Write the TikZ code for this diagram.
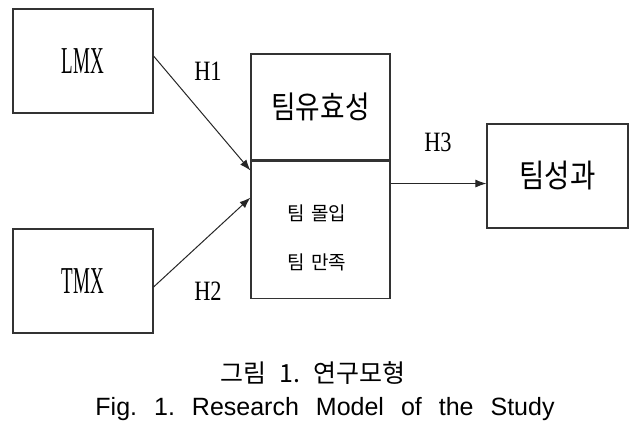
\documentclass[tikz,border=0pt]{standalone}
\usepackage{fontspec}
\setmainfont{Liberation Serif}
\newfontfamily\krfont{Noto Sans CJK KR}
\newfontfamily\krcond[FakeStretch=0.86]{Noto Sans CJK KR}
\newfontfamily\condfont[FakeStretch=0.5]{Liberation Serif}
\newfontfamily\hypfont[FakeStretch=0.8]{Liberation Serif}
\newfontfamily\capfont{Liberation Sans}
\usepackage{tikz}
\usetikzlibrary{arrows.meta,positioning}

\begin{document}
\begin{tikzpicture}[
    x=1pt, y=-1pt,
    box/.style={draw=black!80, line width=1.1pt, inner sep=0pt, align=center},
    var/.style={box, minimum width=140pt, minimum height=104pt, font=\condfont\fontsize{38}{40}\selectfont},
    hyp/.style={font=\hypfont\fontsize{28}{30}\selectfont},
    item/.style={font=\krfont\fontsize{19}{21}\selectfont},
    line/.style={-{Latex[length=11pt,width=8pt]}, line width=1pt, black!85}
]
\useasboundingbox (0,0) rectangle (638,432);

% variables
\node[var] (lmx) at (83,61) {LMX};
\node[var] (tmx) at (83,281) {TMX};
\node[box, minimum width=139pt, minimum height=106pt, font=\krcond\fontsize{31}{33}\selectfont] (eff) at (320.5,107) {팀유효성};
\node[box, minimum width=139pt, minimum height=137pt, anchor=north] (att) at (eff.south) {};
\node[item] (commit) at (317,213) {팀\hspace{6pt}몰입};
\node[item] (satis) at (317,262) {팀\hspace{6pt}만족};
\node[box, minimum width=141pt, minimum height=104pt, font=\krcond\fontsize{32}{34}\selectfont] (perf) at (557.5,176) {팀성과};

% hypotheses
\node[hyp] (h1) at (208,71) {H1};
\node[hyp] (h2) at (208,291) {H2};
\node[hyp] (h3) at (438,142) {H3};

\draw[line] ([yshift=5pt]lmx.east) -- ([yshift=-10pt]att.north west);
\draw[line] ([yshift=-6pt]tmx.east) -- ([yshift=-37pt]att.north west);
\draw[line] ([yshift=-23pt]att.north east) -- ([yshift=-23pt]att.north east -| perf.west);

% caption
\node[font=\krfont\fontsize{25}{27}\selectfont] (cap1) at (313,373) {그림\hspace{13pt}1.\hspace{13pt}연구모형};
\node[font=\capfont\fontsize{25}{27}\selectfont] (cap2) at (325,409) {Fig.\hspace{17pt}1.\hspace{17pt}Research\hspace{17pt}Model\hspace{17pt}of\hspace{17pt}the\hspace{17pt}Study};
\end{tikzpicture}
\end{document}
